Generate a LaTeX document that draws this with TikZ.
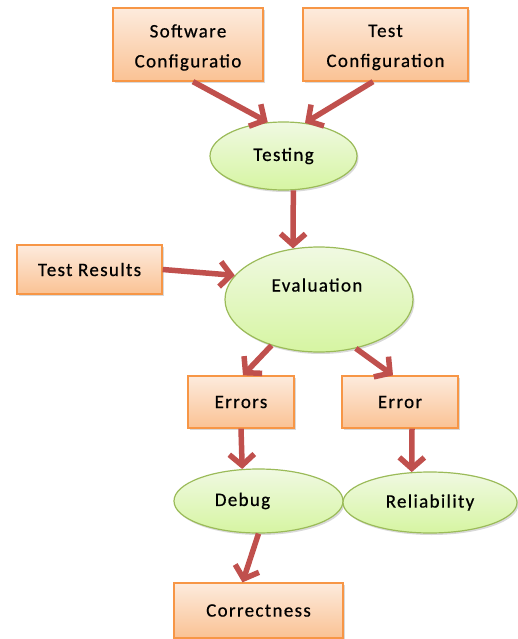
\documentclass[tikz,border=0pt]{standalone}
\usepackage{fontspec}
\setmainfont[LetterSpace=7,FakeBold=0.6]{Carlito}
\usetikzlibrary{shapes.geometric,shadows,arrows.meta}

\definecolor{boxline}{HTML}{F79646}
\definecolor{boxtop}{HTML}{FDEBDD}
\definecolor{boxbottom}{HTML}{FAC294}
\definecolor{ovalline}{HTML}{9BBB59}
\definecolor{ovaltop}{HTML}{F0F9E2}
\definecolor{ovalbottom}{HTML}{D6F5A2}
\definecolor{arrowred}{HTML}{C0504D}

\begin{document}
\begin{tikzpicture}[x=1pt,y=-1pt,font=\fontsize{19}{30}\selectfont]

\tikzstyle{box}=[rectangle,draw=boxline,line width=1.3pt,top color=boxtop,bottom color=boxbottom,
  drop shadow={shadow xshift=1.5pt,shadow yshift=-2pt,opacity=.3},align=center]
\tikzstyle{oval}=[ellipse,draw=ovalline,line width=1.2pt,top color=ovaltop,bottom color=ovalbottom,
  drop shadow={shadow xshift=1.5pt,shadow yshift=-2pt,opacity=.3}]
\tikzstyle{flow}=[color=arrowred,line width=5.5pt,-{Straight Barb[length=11pt,width=25pt]}]

\useasboundingbox (0,0) rectangle (517,639);

\node[oval,minimum width=147pt,minimum height=68pt] 	(testing) at (283.5,156) {Testing};
\node[box,minimum width=150pt,minimum height=73pt,label={[yshift=-3pt,align=center]center:Software\\Configuratio}]
	(software) [above of=testing,node distance=111.5pt,xshift=-95.5pt] {};
\node[box,minimum width=165pt,minimum height=73pt,label={[yshift=-3pt,align=center]center:Test\\Configuration}]
	(testconf) [right of=software,node distance=197.5pt] {};
\node[oval,minimum width=188pt,minimum height=105pt,label={[xshift=-2pt,yshift=14.5pt]center:Evaluation}]
	(evaluation) [below of=testing,node distance=143.5pt,xshift=35.5pt] {};
\node[box,minimum width=145pt,minimum height=49pt] 	(testresults) [left of=evaluation,node distance=229.5pt,yshift=30pt] {Test Results};
\node[box,minimum width=106pt,minimum height=52pt] 	(errors) [below of=evaluation,node distance=102.5pt,xshift=-78pt] {Errors};
\node[box,minimum width=116pt,minimum height=52pt] 	(error) [right of=errors,node distance=159pt] {Error};
\node[oval,minimum width=169pt,minimum height=64pt,label={[xshift=-16pt]center:Debug}]
	(debug) [below of=errors,node distance=99pt,xshift=17.5pt] {};
\node[oval,minimum width=174pt,minimum height=61pt] 	(reliability) [right of=debug,node distance=171.5pt,yshift=-1.5pt] {Reliability};
\node[box,minimum width=169pt,minimum height=55pt] 	(correctness) [below of=debug,node distance=109.5pt] {Correctness};

\path[flow] ([xshift=5pt]software.south) 	edge (testing.115)
			([xshift=-12.5pt]testconf.south) edge (testing.57)
			(testing.-74) 			edge (evaluation.117)
			(testresults.east) 		edge (evaluation.164)
			(evaluation.224) 		edge ([xshift=2pt]errors.north)
			(evaluation.-53) 		edge ([xshift=-7pt]error.north)
			(errors.south) 			edge (debug.117)
			([xshift=12pt]error.south) 	edge (reliability.121)
			(debug.south) 			edge ([xshift=-16pt]correctness.north);
\end{tikzpicture}
\end{document}
